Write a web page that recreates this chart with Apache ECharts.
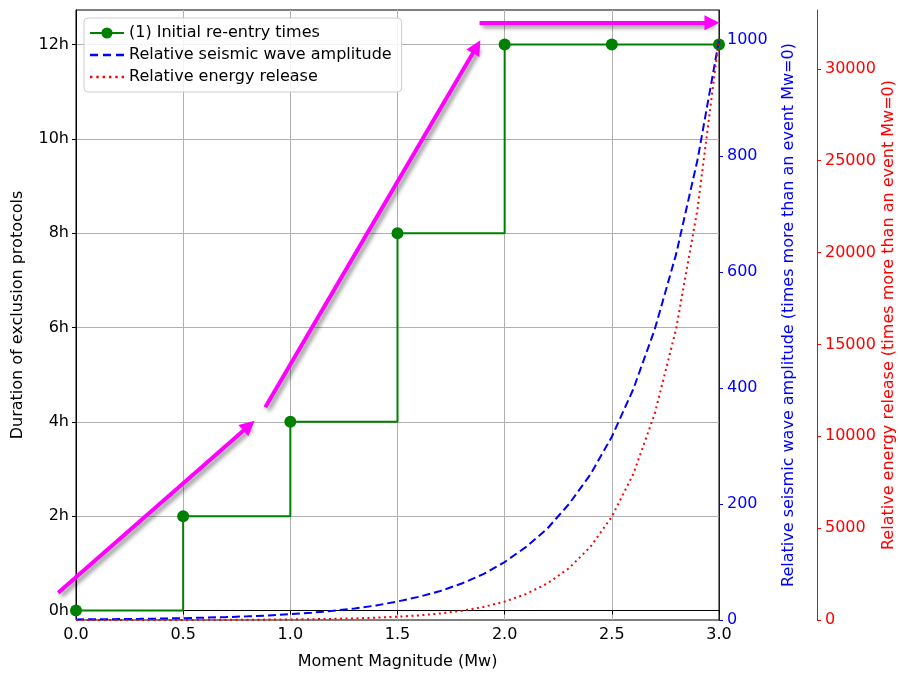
<!DOCTYPE html>
<html>
<head>
<meta charset="utf-8">
<script src="https://cdn.jsdelivr.net/npm/echarts@6/dist/echarts.min.js"></script>
<style>
  html, body { margin: 0; padding: 0; background: #fff; }
  #main { width: 899px; height: 673px; }
</style>
</head>
<body>
<div id="main"></div>
<script>
// re-entry steps (hours) per magnitude
var stepMw = [0, 0.5, 1.0, 1.5, 2.0, 2.5, 3.0];
var stepHours = [0, 2, 4, 8, 12, 12, 12];

// curves, every 0.1 Mw
var curveMw = [0, 0.1, 0.2, 0.3, 0.4, 0.5, 0.6, 0.7, 0.8, 0.9, 1.0, 1.1, 1.2, 1.3, 1.4, 1.5,
  1.6, 1.7, 1.8, 1.9, 2.0, 2.1, 2.2, 2.3, 2.4, 2.5, 2.6, 2.7, 2.8, 2.9, 3.0];
var amplitude = [1, 1.3, 1.6, 2, 2.5, 3.2, 4, 5, 6.3, 7.9, 10, 12.6, 15.8, 20, 25, 32,
  40, 50, 63, 79, 100, 126, 158, 200, 251, 316, 398, 501, 631, 794, 1000];
var energy = [1, 1.4, 2, 2.8, 4, 5.6, 7.9, 11, 16, 22, 32, 45, 63, 89, 126, 178,
  251, 355, 501, 708, 1000, 1413, 1995, 2818, 3981, 5623, 7943, 11220, 15849, 22387, 31623];

// tick labels
var hourTicks = [0, 2, 4, 6, 8, 10, 12];
var ampTicks = [0, 200, 400, 600, 800, 1000];
var energyTicks = [0, 5000, 10000, 15000, 20000, 25000, 30000];

// magenta annotation arrows, [Mw, hours]
var arrows = [
  [[-0.083, 0.38], [0.807, 3.92]],
  [[0.883, 4.31], [1.869, 11.95]],
  [[1.883, 12.46], [2.967, 12.46]]
];

var font = 'DejaVu Sans';
var fs = 16;
var myChart = echarts.init(document.getElementById('main'));

function zip(xs, ys) {
  return xs.map(function (x, i) { return [x, ys[i]]; });
}
function plain(v) { return String(v); }

// legend icons: dashes and dots
var dashIcon = 'path://M0,0h8v2.4h-8z M13,0h8v2.4h-8z M26,0h8v2.4h-8z';
var dotIcon = 'path://M0,0h2.4v2.4h-2.4z M6.3,0h2.4v2.4h-2.4z M12.6,0h2.4v2.4h-2.4z ' +
  'M18.9,0h2.4v2.4h-2.4z M25.2,0h2.4v2.4h-2.4z M31.5,0h2.4v2.4h-2.4z';

var option = {
  animation: false,
  textStyle: { fontFamily: font },
  grid: {
    left: 76, right: 180, top: 10, bottom: 53,
    outerBoundsMode: 'none',
    containLabel: false,
    show: true, borderColor: '#000', borderWidth: 1
  },
  legend: {
    left: 84, top: 18,
    orient: 'vertical',
    padding: [7, 10, 7, 5],
    itemGap: 6,
    itemWidth: 34,
    itemHeight: 14,
    backgroundColor: 'rgba(255,255,255,0.85)',
    borderColor: '#cccccc',
    borderWidth: 1,
    borderRadius: 4,
    textStyle: { fontFamily: font, fontSize: fs, color: '#000' },
    data: [
      { name: '(1) Initial re-entry times' },
      { name: 'Relative seismic wave amplitude', icon: dashIcon },
      { name: 'Relative energy release', icon: dotIcon }
    ]
  },
  xAxis: {
    type: 'value',
    min: 0, max: 3, interval: 0.5,
    name: 'Moment Magnitude (Mw)',
    nameLocation: 'middle',
    nameGap: 34,
    nameMoveOverlap: false,
    nameTextStyle: { fontFamily: font, fontSize: fs, color: '#000' },
    axisLine: { lineStyle: { color: '#000', width: 1 } },
    axisTick: { show: true, length: 4, lineStyle: { color: '#000' } },
    axisLabel: {
      fontFamily: font, fontSize: fs, color: '#000', margin: 7,
      formatter: function (v) { return v.toFixed(1); }
    },
    splitLine: { show: true, lineStyle: { color: '#b0b0b0', width: 1 } }
  },
  yAxis: [
    {
      type: 'value',
      position: 'left',
      min: -0.2, max: 12.73,
      name: 'Duration of exclusion protocols',
      nameLocation: 'middle',
      nameGap: 50,
      nameMoveOverlap: false,
      nameTextStyle: { fontFamily: font, fontSize: fs, color: '#000' },
      axisLine: { show: true, lineStyle: { color: '#000', width: 1 } },
      axisTick: { show: true, length: 4, lineStyle: { color: '#000' }, customValues: hourTicks },
      axisLabel: {
        fontFamily: font, fontSize: fs, color: '#000', margin: 7,
        customValues: hourTicks,
        formatter: function (v) { return v + 'h'; }
      },
      splitLine: { show: true, lineStyle: { color: '#b0b0b0', width: 1 } }
    },
    {
      type: 'value',
      position: 'right',
      min: 0, max: 1052,
      name: 'Relative seismic wave amplitude (times more than an event Mw=0)',
      nameLocation: 'middle',
      nameRotate: 90,
      nameGap: 62,
      nameMoveOverlap: false,
      nameTextStyle: { fontFamily: font, fontSize: fs, color: 'blue' },
      axisLine: { show: true, lineStyle: { color: 'blue', width: 1 } },
      axisTick: { show: true, length: 4, lineStyle: { color: 'blue' }, customValues: ampTicks },
      axisLabel: {
        fontFamily: font, fontSize: fs, color: 'blue', margin: 8,
        customValues: ampTicks, formatter: plain
      },
      splitLine: { show: false }
    },
    {
      type: 'value',
      position: 'right',
      offset: 98,
      min: 0, max: 33200,
      name: 'Relative energy release (times more than an event Mw=0)',
      nameLocation: 'middle',
      nameRotate: 90,
      nameGap: 64,
      nameMoveOverlap: false,
      nameTextStyle: { fontFamily: font, fontSize: fs, color: 'red' },
      axisLine: { show: true, lineStyle: { color: 'red', width: 1 } },
      axisTick: { show: true, length: 4, lineStyle: { color: 'red' }, customValues: energyTicks },
      axisLabel: {
        fontFamily: font, fontSize: fs, color: 'red', margin: 8,
        customValues: energyTicks, formatter: plain
      },
      splitLine: { show: false }
    }
  ],
  series: [
    {
      name: '(1) Initial re-entry times',
      type: 'line',
      yAxisIndex: 0,
      step: 'end',
      data: zip(stepMw, stepHours),
      color: 'green',
      lineStyle: { color: 'green', width: 2 },
      symbol: 'circle',
      symbolSize: 12,
      showAllSymbol: true,
      itemStyle: { color: 'green' },
      z: 3
    },
    {
      name: 'Relative seismic wave amplitude',
      type: 'line',
      yAxisIndex: 1,
      data: zip(curveMw, amplitude),
      color: 'blue',
      showSymbol: false,
      symbol: 'none',
      lineStyle: { color: 'blue', width: 2, type: [8, 4] },
      z: 4
    },
    {
      name: 'Relative energy release',
      type: 'line',
      yAxisIndex: 2,
      data: zip(curveMw, energy),
      color: 'red',
      showSymbol: false,
      symbol: 'none',
      lineStyle: { color: 'red', width: 2, type: [2, 3.5] },
      z: 5
    },
    {
      name: 'arrows',
      type: 'lines',
      coordinateSystem: 'cartesian2d',
      xAxisIndex: 0,
      yAxisIndex: 0,
      clip: false,
      silent: true,
      symbol: ['none', 'triangle'],
      symbolSize: 15,
      lineStyle: {
        color: '#ff00ff', width: 4, opacity: 1, curveness: 0,
        shadowColor: 'rgba(0,0,0,0.45)', shadowBlur: 4, shadowOffsetX: 3, shadowOffsetY: 3
      },
      data: arrows.map(function (a) { return { coords: a }; }),
      z: 10
    }
  ]
};

myChart.setOption(option);
</script>
</body>
</html>
